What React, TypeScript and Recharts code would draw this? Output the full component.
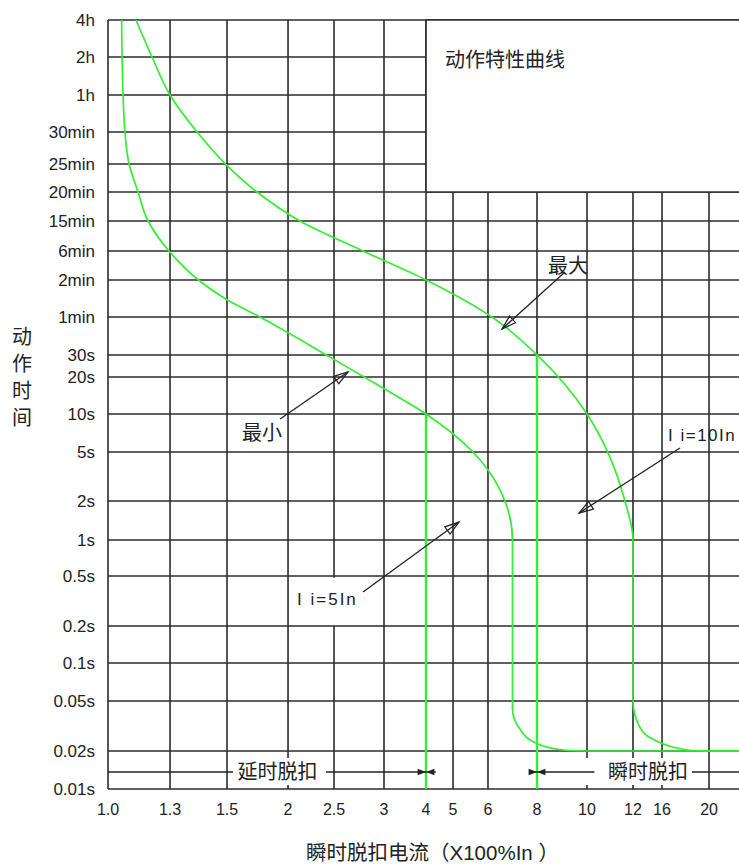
import React from "react";
import {
  ComposedChart, Line, XAxis, YAxis, CartesianGrid,
  ReferenceArea, ReferenceLine, ReferenceDot,
} from "recharts";

const FONT = "Arial, 'Liberation Sans', 'Noto Sans CJK SC', sans-serif";
const INK = "#222";
const GRID = "#2b2b2b";
const GREEN = "#33ee33";

// x axis: trip current as multiple of In (hand spaced grid, not log)
const xTickValues = [1.0, 1.3, 1.5, 2, 2.5, 3, 4, 5, 6, 8, 10, 12, 16, 20];
const xTickLabels = ["1.0", "1.3", "1.5", "2", "2.5", "3", "4", "5", "6", "8", "10", "12", "16", "20"];
const xTickSpots = [0, 0.0983, 0.1886, 0.2853, 0.3582, 0.4374, 0.504, 0.5468, 0.6022, 0.6799, 0.7591, 0.832, 0.878, 0.9525];
const xEdgeValue = 22.5;

// y axis: operating time in seconds
const yTickValues = [0.01, 0.02, 0.05, 0.1, 0.2, 0.5, 1, 2, 5, 10, 20, 30, 60, 120, 360, 900, 1200, 1500, 1800, 3600, 7200, 14400];
const yTickLabels = ["0.01s", "0.02s", "0.05s", "0.1s", "0.2s", "0.5s", "1s", "2s", "5s", "10s", "20s", "30s",
  "1min", "2min", "6min", "15min", "20min", "25min", "30min", "1h", "2h", "4h"];
const yTickSpots = [0, 0.0494, 0.1144, 0.1638, 0.212, 0.277, 0.3238, 0.3745, 0.4382, 0.4876, 0.5358, 0.5644,
  0.6138, 0.6619, 0.6996, 0.7386, 0.7763, 0.8127, 0.8544, 0.9025, 0.9519, 1];

// curves: [current x In, time s]
const maxCurve: [number, number][] = [
  [1.135, 14400], [1.213, 7200], [1.3, 3600], [1.395, 1800], [1.495, 1500], [1.746, 1200], [2.13, 900],
  [2.79, 360], [4, 120], [6.16, 60], [8, 30], [10, 10], [10.9, 5], [11.65, 2], [12, 1],
  [12, 0.05], [12.97, 0.034], [14.76, 0.027], [18.13, 0.0206], [20, 0.02],
];
const maxFlat: [number, number][] = [[20, 0.02], [22.5, 0.02]];

const minCurve: [number, number][] = [
  [1.066, 14400], [1.068, 7200], [1.073, 3600], [1.082, 1800], [1.102, 1500], [1.145, 1200], [1.194, 900],
  [1.295, 360], [1.4, 120], [1.5, 88], [1.77, 60], [2.51, 27.7], [2.99, 17], [4, 10], [5.57, 5], [6, 3.9],
  [6.69, 2], [7, 1], [7, 0.045], [7.31, 0.033], [7.92, 0.025], [9.04, 0.0206], [10, 0.02],
];
const minFlat: [number, number][] = [[10, 0.02], [22.5, 0.02]];

const ii5: [number, number][] = [[4, 10], [4, 0.01]];
const ii10: [number, number][] = [[8, 30], [8, 0.01]];

const lerp = (v: number, vals: number[], spots: number[]) => {
  if (v <= vals[0]) return spots[0];
  for (let k = 1; k < vals.length; k++) {
    if (v <= vals[k]) {
      const t = (v - vals[k - 1]) / (vals[k] - vals[k - 1]);
      return spots[k - 1] + t * (spots[k] - spots[k - 1]);
    }
  }
  return spots[spots.length - 1];
};
const toX = (v: number) => lerp(v, [...xTickValues, xEdgeValue], [...xTickSpots, 1]);
const toY = (v: number) => lerp(v, yTickValues, yTickSpots);
const pts = (arr: [number, number][]) => arr.map(([i, t]) => ({ x: toX(i), y: toY(t) }));
const pickLabel = (spots: number[], labels: string[]) => (v: number) => {
  const k = spots.findIndex((s) => Math.abs(s - v) < 1e-6);
  return k >= 0 ? labels[k] : "";
};

const arrow = (head: "open" | "solid" | "none") => (p: any) => {
  const { x1, y1, x2, y2 } = p;
  const ang = Math.atan2(y2 - y1, x2 - x1);
  const len = head === "open" ? 15 : 9;
  const half = head === "open" ? 0.3 : 0.37;
  const ax = x2 - len * Math.cos(ang - half), ay = y2 - len * Math.sin(ang - half);
  const bx = x2 - len * Math.cos(ang + half), by = y2 - len * Math.sin(ang + half);
  return (
    <g>
      <line x1={x1} y1={y1} x2={x2} y2={y2} stroke={INK} strokeWidth={1.3} />
      {head === "open" && (
        <polygon points={`${x2},${y2} ${ax},${ay} ${bx},${by}`} fill="none" stroke={INK} strokeWidth={1.2} />
      )}
      {head === "solid" && <polygon points={`${x2},${y2} ${ax},${ay} ${bx},${by}`} fill={INK} />}
    </g>
  );
};

const note = (text: string, anchor: "start" | "middle", size: number, spacing = 0) => (p: any) => (
  <text x={p.cx} y={p.cy} textAnchor={anchor} dominantBaseline="central" fontSize={size}
    fontFamily={FONT} fill={INK} letterSpacing={spacing}>{text}</text>
);

const xTitle = "瞬时脱扣电流（X100%In ）";
const yTitle = "动作时间";

const XTitle = (props: any) => {
  const vb = props.viewBox ?? { x: 108, y: 789, width: 631, height: 76 };
  return (
    <text x={vb.x + vb.width / 2 + 9} y={vb.y + 63} textAnchor="middle" dominantBaseline="central"
      fontSize={20.5} fontFamily={FONT} fill={INK}>{xTitle}</text>
  );
};

const YTitle = (props: any) => {
  const vb = props.viewBox ?? { x: 0, y: 20, width: 108, height: 769 };
  const cx = vb.x + 22;
  const cy = vb.y + vb.height / 2 - 27;
  return (
    <g>
      {yTitle.split("").map((ch, k) => (
        <text key={k} x={cx} y={cy + (k - 1.5) * 27} textAnchor="middle" dominantBaseline="central"
          fontSize={20} fontFamily={FONT} fill={INK}>{ch}</text>
      ))}
    </g>
  );
};

const BOT = 0.01447; // row of the 延时/瞬时 markers

export default function App() {
  const xTickStyle = { fontSize: 16, fill: INK, fontFamily: FONT };
  const yTickStyle = { fontSize: 17, fill: INK, fontFamily: FONT };
  const seg = (a: [number, number], b: [number, number]) => [
    { x: toX(a[0]), y: toY(a[1]) }, { x: toX(b[0]), y: toY(b[1]) },
  ];
  return (
    <div style={{ position: "absolute", left: 0, top: 0, width: 739, height: 865, background: "#fff" }}>
      <ComposedChart width={739} height={865} margin={{ top: 20, right: 0, bottom: 0, left: 0 }}>
        <CartesianGrid stroke={GRID} strokeWidth={1.6} syncWithTicks
          horizontalValues={yTickSpots} verticalValues={xTickSpots} />
        <XAxis type="number" dataKey="x" domain={[0, 1]} ticks={xTickSpots} interval={0}
          tickFormatter={pickLabel(xTickSpots, xTickLabels)} axisLine={false} tickLine={false}
          tickSize={0} tickMargin={15} height={76} tick={xTickStyle} allowDataOverflow
          label={{ content: XTitle }} />
        <YAxis type="number" dataKey="y" domain={[0, 1]} ticks={yTickSpots} interval={0}
          tickFormatter={pickLabel(yTickSpots, yTickLabels)} axisLine={false} tickLine={false}
          tickSize={0} tickMargin={13} width={108} tick={yTickStyle} allowDataOverflow
          label={{ content: YTitle }} />

        {/* blank title box top right */}
        <ReferenceArea x1={toX(4)} x2={1} y1={toY(1200)} y2={1} fill="#fff" fillOpacity={1} stroke="none" ifOverflow="visible" />
        {/* merged cell on the 2.5 line */}
        <ReferenceArea x1={toX(2.48)} x2={toX(2.52)} y1={toY(0.205)} y2={toY(0.49)} fill="#fff" fillOpacity={1} stroke="none" ifOverflow="visible" />
        {/* label boxes in the bottom row */}
        <ReferenceArea x1={toX(1.549)} x2={toX(2.413)} y1={toY(0.01105)} y2={toY(0.01816)} fill="#fff" fillOpacity={1} stroke="none" ifOverflow="visible" />
        <ReferenceArea x1={toX(9.84)} x2={toX(19.23)} y1={toY(0.01105)} y2={toY(0.01816)} fill="#fff" fillOpacity={1} stroke="none" ifOverflow="visible" />

        <ReferenceLine segment={[{ x: toX(4), y: toY(1200) }, { x: toX(4), y: 1 }]} stroke={GRID} strokeWidth={1.6} ifOverflow="visible" />
        <ReferenceLine segment={[{ x: toX(4), y: toY(1200) }, { x: 1, y: toY(1200) }]} stroke={GRID} strokeWidth={1.6} ifOverflow="visible" />
        <ReferenceLine segment={[{ x: toX(4), y: 1 }, { x: 1, y: 1 }]} stroke={GRID} strokeWidth={1.6} ifOverflow="visible" />

        <Line data={pts(minCurve)} dataKey="y" type="monotoneY" stroke={GREEN} strokeWidth={1.7} dot={false} activeDot={false} isAnimationActive={false} />
        <Line data={pts(minFlat)} dataKey="y" type="linear" stroke={GREEN} strokeWidth={1.7} dot={false} activeDot={false} isAnimationActive={false} />
        <Line data={pts(maxCurve)} dataKey="y" type="monotoneY" stroke={GREEN} strokeWidth={1.7} dot={false} activeDot={false} isAnimationActive={false} />
        <Line data={pts(maxFlat)} dataKey="y" type="linear" stroke={GREEN} strokeWidth={1.7} dot={false} activeDot={false} isAnimationActive={false} />
        <Line data={pts(ii5)} dataKey="y" type="linear" stroke={GREEN} strokeWidth={2.4} dot={false} activeDot={false} isAnimationActive={false} />
        <Line data={pts(ii10)} dataKey="y" type="linear" stroke={GREEN} strokeWidth={2.4} dot={false} activeDot={false} isAnimationActive={false} />

        {/* pointer arrows */}
        <ReferenceLine segment={seg([9.12, 186], [6.57, 50.5])} shape={arrow("open")} ifOverflow="visible" />
        <ReferenceLine segment={seg([1.935, 9.34], [2.64, 22.3])} shape={arrow("open")} ifOverflow="visible" />
        <ReferenceLine segment={seg([17.53, 5.53], [9.68, 1.69])} shape={arrow("open")} ifOverflow="visible" />
        <ReferenceLine segment={seg([2.79, 0.404], [5.17, 1.46])} shape={arrow("open")} ifOverflow="visible" />

        {/* 延时 / 瞬时 markers */}
        <ReferenceLine segment={seg([1.0, BOT], [1.549, BOT])} shape={arrow("none")} ifOverflow="visible" />
        <ReferenceLine segment={seg([2.413, BOT], [4, BOT])} shape={arrow("solid")} ifOverflow="visible" />
        <ReferenceLine segment={seg([4.37, BOT], [4, BOT])} shape={arrow("solid")} ifOverflow="visible" />
        <ReferenceLine segment={seg([7.67, BOT], [8, BOT])} shape={arrow("solid")} ifOverflow="visible" />
        <ReferenceLine segment={seg([10.32, BOT], [8, BOT])} shape={arrow("solid")} ifOverflow="visible" />
        <ReferenceLine segment={seg([18.55, BOT], [22.5, BOT])} shape={arrow("none")} ifOverflow="visible" />

        <ReferenceDot x={toX(4.7)} y={toY(6916)} shape={note("动作特性曲线", "start", 20)} ifOverflow="visible" />
        <ReferenceDot x={toX(9.24)} y={toY(236)} shape={note("最大", "middle", 20)} ifOverflow="visible" />
        <ReferenceDot x={toX(1.787)} y={toY(7.5)} shape={note("最小", "middle", 20)} ifOverflow="visible" />
        <ReferenceDot x={toX(16.51)} y={toY(7.24)} shape={note("I i=10In", "start", 17, 1.5)} ifOverflow="visible" />
        <ReferenceDot x={toX(2.098)} y={toY(0.356)} shape={note("I i=5In", "start", 17, 2)} ifOverflow="visible" />
        <ReferenceDot x={toX(1.914)} y={toY(BOT)} shape={note("延时脱扣", "middle", 20)} ifOverflow="visible" />
        <ReferenceDot x={toX(14.07)} y={toY(BOT)} shape={note("瞬时脱扣", "middle", 20)} ifOverflow="visible" />
      </ComposedChart>
    </div>
  );
}
